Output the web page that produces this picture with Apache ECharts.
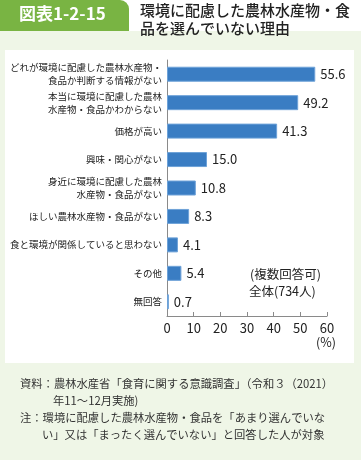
<!DOCTYPE html>
<html><head><meta charset="utf-8">
<script src="https://cdn.jsdelivr.net/npm/echarts@6/dist/echarts.min.js"></script>
<style>html,body{margin:0;padding:0;background:#fff}#c{width:361px;height:460px}</style>
</head><body><div id="c"></div>
<script>
const categories = [
  'どれが環境に配慮した農林水産物・\n食品か判断する情報がない',
  '本当に環境に配慮した農林\n水産物・食品かわからない',
  '価格が高い',
  '興味・関心がない',
  '身近に環境に配慮した農林\n水産物・食品がない',
  'ほしい農林水産物・食品がない',
  '食と環境が関係していると思わない',
  'その他',
  '無回答'
];
const values = [55.6, 49.2, 41.3, 15.0, 10.8, 8.3, 4.1, 5.4, 0.7];
const xTicks = [0, 10, 20, 30, 40, 50, 60];
const FONT = '"Noto Sans CJK JP", "Noto Sans", sans-serif';

const chart = echarts.init(document.getElementById('c'), null, {renderer: 'canvas'});
chart.setOption({
  animation: false,
  textStyle: {fontFamily: FONT},
  graphic: [
    {type: 'rect', z: -10, silent: true, shape: {x: 0, y: 31, width: 361, height: 429}, style: {fill: '#eff6e7'}},
    {type: 'rect', z: -9, silent: true, shape: {x: 5, y: 50, width: 349, height: 313}, style: {fill: '#ffffff'}},
    {type: 'rect', z: -8, silent: true, shape: {x: 0, y: 0, width: 129, height: 31, r: [0, 9, 0, 0]}, style: {fill: '#79b443'}},
    {type: 'text', left: 19, top: 5, style: {text: '図表1-2-15', fill: '#fff', font: 'bold 17px ' + FONT}},
    {type: 'text', left: 140, top: 1, style: {text: '環境に配慮した農林水産物・食\n品を選んでいない理由', fill: '#222', font: '500 15px ' + FONT, lineHeight: 18}},
    {type: 'text', left: 250, top: 268, style: {text: '(複数回答可)', fill: '#222', font: '12.5px ' + FONT}},
    {type: 'text', left: 249, top: 285, style: {text: '全体(734人)', fill: '#222', font: '12.5px ' + FONT}},
    {type: 'text', left: 316, top: 336, style: {text: '(%)', fill: '#222', font: '12.5px ' + FONT}},
    {type: 'text', left: 20, top: 378, style: {text: '資料：農林水産省「食育に関する意識調査」（令和３（2021）', fill: '#333', font: '11.3px ' + FONT}},
    {type: 'text', left: 53, top: 395, style: {text: '年11～12月実施)', fill: '#333', font: '11.3px ' + FONT}},
    {type: 'text', left: 20, top: 412, style: {text: '注：環境に配慮した農林水産物・食品を「あまり選んでいな', fill: '#333', font: '11.3px ' + FONT}},
    {type: 'text', left: 42, top: 429, style: {text: 'い」又は「まったく選んでいない」と回答した人が対象', fill: '#333', font: '11.3px ' + FONT}}
  ],
  grid: {left: 167, right: 34, top: 60, bottom: 144, containLabel: false, outerBoundsMode: 'none'},
  xAxis: {
    type: 'value', min: 0, max: 60, interval: 10,
    axisLine: {show: true, lineStyle: {color: '#8a8a8a', width: 1}},
    axisTick: {show: true, inside: true, length: 4, lineStyle: {color: '#8a8a8a'}},
    splitLine: {show: false},
    axisLabel: {color: '#222', fontSize: 13, margin: 6, fontFamily: FONT,
      formatter: v => xTicks.includes(v) ? String(v) : ''}
  },
  yAxis: {
    type: 'category', data: categories, inverse: true,
    axisLine: {show: true, lineStyle: {color: '#8a8a8a', width: 1}},
    axisTick: {show: false},
    axisLabel: {color: '#222', fontSize: 9.5, lineHeight: 13, margin: 5, align: 'right', fontFamily: FONT, interval: 0}
  },
  series: [{
    type: 'bar', data: values, barWidth: 15,
    itemStyle: {color: '#3a7dc3', borderColor: '#6ea2d8', borderWidth: 1},
    label: {show: true, position: 'right', distance: 5, color: '#222', fontSize: 13, fontFamily: FONT,
      formatter: p => p.value.toFixed(1)}
  }]
});
</script></body></html>
